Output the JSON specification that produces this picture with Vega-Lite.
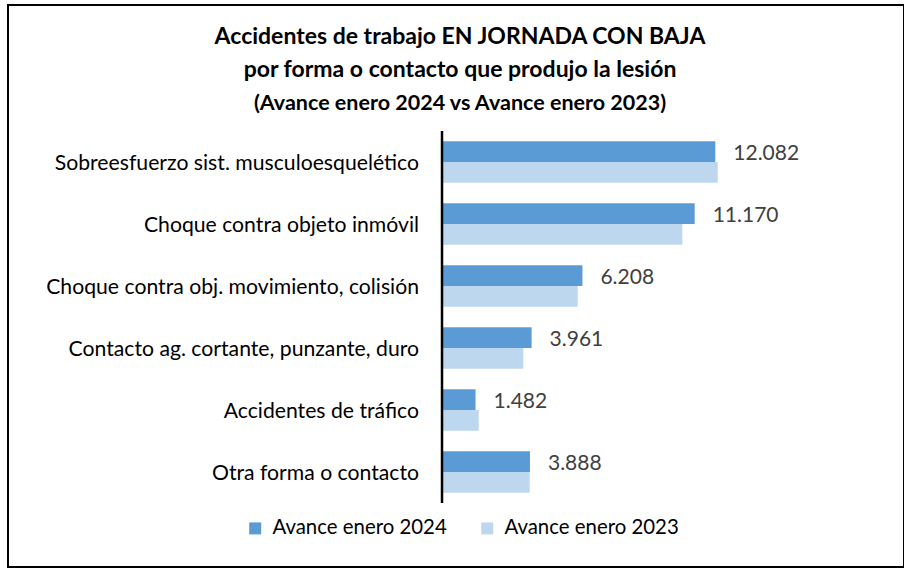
{
  "$schema": "https://vega.github.io/schema/vega-lite/v6.json",
  "autosize": "none",
  "width": 896,
  "height": 562,
  "padding": {"left": 8, "top": 5, "right": 0, "bottom": 3},
  "background": "white",
  "title": {
    "text": ["Accidentes de trabajo EN JORNADA CON BAJA", "por forma o contacto que produjo la lesión"],
    "subtitle": "(Avance enero 2024 vs Avance enero 2023)",
    "orient": "top",
    "anchor": "middle",
    "frame": "group",
    "offset": -109,
    "dx": 4
  },
  "data": {
    "values": [
      {"cat": "Sobreesfuerzo sist. musculoesquelético", "serie": "Avance enero 2024", "value": 12082},
      {"cat": "Sobreesfuerzo sist. musculoesquelético", "serie": "Avance enero 2023", "value": 12188},
      {"cat": "Choque contra objeto inmóvil", "serie": "Avance enero 2024", "value": 11170},
      {"cat": "Choque contra objeto inmóvil", "serie": "Avance enero 2023", "value": 10623},
      {"cat": "Choque contra obj. movimiento, colisión", "serie": "Avance enero 2024", "value": 6208},
      {"cat": "Choque contra obj. movimiento, colisión", "serie": "Avance enero 2023", "value": 5999},
      {"cat": "Contacto ag. cortante, punzante, duro", "serie": "Avance enero 2024", "value": 3961},
      {"cat": "Contacto ag. cortante, punzante, duro", "serie": "Avance enero 2023", "value": 3594},
      {"cat": "Accidentes de tráfico", "serie": "Avance enero 2024", "value": 1482},
      {"cat": "Accidentes de tráfico", "serie": "Avance enero 2023", "value": 1622},
      {"cat": "Otra forma o contacto", "serie": "Avance enero 2024", "value": 3888},
      {"cat": "Otra forma o contacto", "serie": "Avance enero 2023", "value": 3877}
    ]
  },
  "encoding": {
    "y": {
      "field": "cat",
      "type": "nominal",
      "sort": ["Sobreesfuerzo sist. musculoesquelético", "Choque contra objeto inmóvil", "Choque contra obj. movimiento, colisión", "Contacto ag. cortante, punzante, duro", "Accidentes de tráfico", "Otra forma o contacto"],
      "scale": {"range": [126, 498], "paddingInner": 0, "paddingOuter": 0},
      "axis": null
    }
  },
  "layer": [
    {
      "mark": {"type": "bar"},
      "encoding": {
        "x": {"field": "value", "type": "quantitative", "scale": {"domain": [-19187, 20424], "nice": false, "zero": false}, "axis": null},
        "yOffset": {"field": "serie", "type": "nominal", "sort": ["Avance enero 2024", "Avance enero 2023"], "scale": {"domain": ["Avance enero 2024", "Avance enero 2023"], "paddingInner": 0, "paddingOuter": 0.494}},
        "color": {
          "field": "serie",
          "type": "nominal",
          "scale": {"domain": ["Avance enero 2024", "Avance enero 2023"], "range": ["#5B9BD5", "#BDD7EE"]},
          "legend": {
            "title": null,
            "orient": "none",
            "direction": "horizontal",
            "legendX": 237,
            "legendY": 513,
            "symbolType": "square",
            "symbolSize": 144,
            "symbolStrokeWidth": 0,
            "labelFont": "Lato",
            "labelFontSize": 20.4,
            "labelColor": "#000000",
            "labelOffset": 7,
            "labelLimit": 0,
            "columnPadding": 30,
            "padding": 0
          }
        }
      }
    },
    {
      "transform": [{"filter": "datum.serie === 'Avance enero 2024'"}],
      "mark": {"type": "text", "align": "left", "baseline": "middle", "dx": 18, "dy": 2, "font": "Lato", "fontSize": 21, "color": "#404040"},
      "encoding": {
        "x": {"field": "value", "type": "quantitative"},
        "yOffset": {"field": "serie", "type": "nominal"},
        "text": {"field": "value", "type": "quantitative", "format": ",.0f"}
      }
    },
    {
      "transform": [{"filter": "datum.serie === 'Avance enero 2024'"}],
      "mark": {"type": "rule", "color": "#000000", "strokeWidth": 2.5},
      "encoding": {
        "x": {"datum": 0, "type": "quantitative"},
        "y": {"field": "cat", "type": "nominal", "bandPosition": 0},
        "y2": {"field": "cat", "bandPosition": 1}
      }
    },
    {
      "transform": [{"filter": "datum.serie === 'Avance enero 2024'"}],
      "mark": {"type": "text", "align": "right", "baseline": "middle", "dx": -23, "dy": 2, "font": "Lato", "fontSize": 21.2, "color": "#000000"},
      "encoding": {
        "x": {"datum": 0, "type": "quantitative"},
        "text": {"field": "cat", "type": "nominal"}
      }
    }
  ],
  "config": {
    "locale": {"number": {"decimal": ",", "thousands": ".", "grouping": [3], "currency": ["", " €"]}},
    "view": {"stroke": "#000000", "strokeWidth": 2},
    "title": {
      "font": "Lato",
      "fontSize": 23,
      "fontWeight": "bold",
      "color": "#000000",
      "lineHeight": 33,
      "subtitleFont": "Lato",
      "subtitleFontSize": 21.5,
      "subtitleFontWeight": "bold",
      "subtitleColor": "#000000",
      "subtitlePadding": 11
    }
  }
}
